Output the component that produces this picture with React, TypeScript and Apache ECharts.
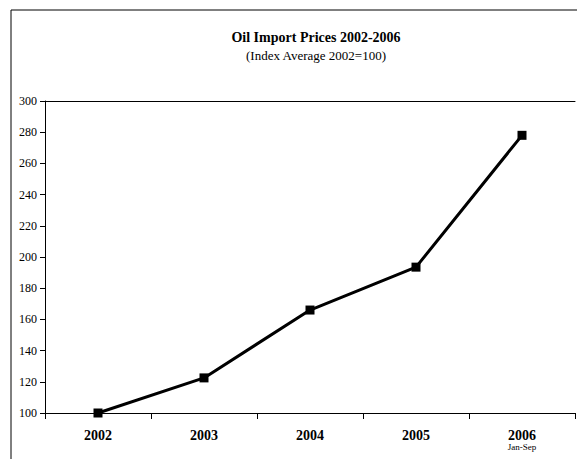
import React, { useEffect, useRef } from "react";
import * as echarts from "echarts";

const categories = ["2002", "2003", "2004", "2005", "2006"];
const subLabels = ["", "", "", "", "Jan-Sep"];
const indexValues = [100, 122.5, 166, 193.5, 278];
const titleText = "Oil Import Prices 2002-2006";
const subtitleText = "(Index Average 2002=100)";

const FONT = "'Liberation Serif', 'Times New Roman', serif";

export default function App() {
  const ref = useRef<HTMLDivElement>(null);
  useEffect(() => {
    if (!ref.current) return;
    const chart = echarts.init(ref.current, undefined, { renderer: "svg" });
    chart.setOption({
      animation: false,
      backgroundColor: "#ffffff",
      textStyle: { fontFamily: FONT },
      title: {
        text: titleText,
        subtext: subtitleText,
        left: 311,
        textAlign: "center",
        top: 25,
        itemGap: 5,
        textStyle: { fontFamily: FONT, fontSize: 14, fontWeight: "bold", color: "#000" },
        subtextStyle: { fontFamily: FONT, fontSize: 13, color: "#000" },
      },
      graphic: [
        {
          type: "rect",
          shape: { x: 11, y: 10, width: 700, height: 600 },
          style: { fill: "none", stroke: "#000", lineWidth: 1 },
          silent: true,
          z: -1,
        },
      ],
      grid: { left: 45, right: 2, top: 101, bottom: 46, containLabel: false },
      xAxis: [
        {
          type: "category",
          data: categories,
          boundaryGap: true,
          axisLine: { show: true, lineStyle: { color: "#000", width: 1 } },
          axisTick: { show: true, alignWithLabel: false, length: 6, lineStyle: { color: "#000" } },
          axisLabel: {
            margin: 16,
            formatter: (v: string, i: number) =>
              subLabels[i] ? `{b|${v}}\n{s|${subLabels[i]}}` : `{b|${v}}`,
            rich: {
              b: { fontFamily: FONT, fontSize: 14, fontWeight: "bold", color: "#000", lineHeight: 13 },
              s: { fontFamily: FONT, fontSize: 9, color: "#000", lineHeight: 9 },
            },
          },
          splitLine: { show: false },
        },
        {
          type: "category",
          position: "top",
          data: categories,
          axisLine: { show: true, lineStyle: { color: "#000", width: 1 } },
          axisTick: { show: false },
          axisLabel: { show: false },
        },
      ],
      yAxis: {
        type: "value",
        min: 100,
        max: 300,
        interval: 20,
        axisLine: { show: true, lineStyle: { color: "#000", width: 1 } },
        axisTick: { show: true, length: 5, lineStyle: { color: "#000" } },
        axisLabel: { fontFamily: FONT, fontSize: 12, color: "#000", margin: 8 },
        splitLine: { show: false },
      },
      series: [
        {
          type: "line",
          data: indexValues,
          symbol: "rect",
          symbolSize: 9,
          itemStyle: { color: "#000" },
          lineStyle: { color: "#000", width: 3 },
        },
      ],
    });
    return () => chart.dispose();
  }, []);
  return <div ref={ref} style={{ width: 577, height: 459, position: "absolute", left: 0, top: 0 }} />;
}
